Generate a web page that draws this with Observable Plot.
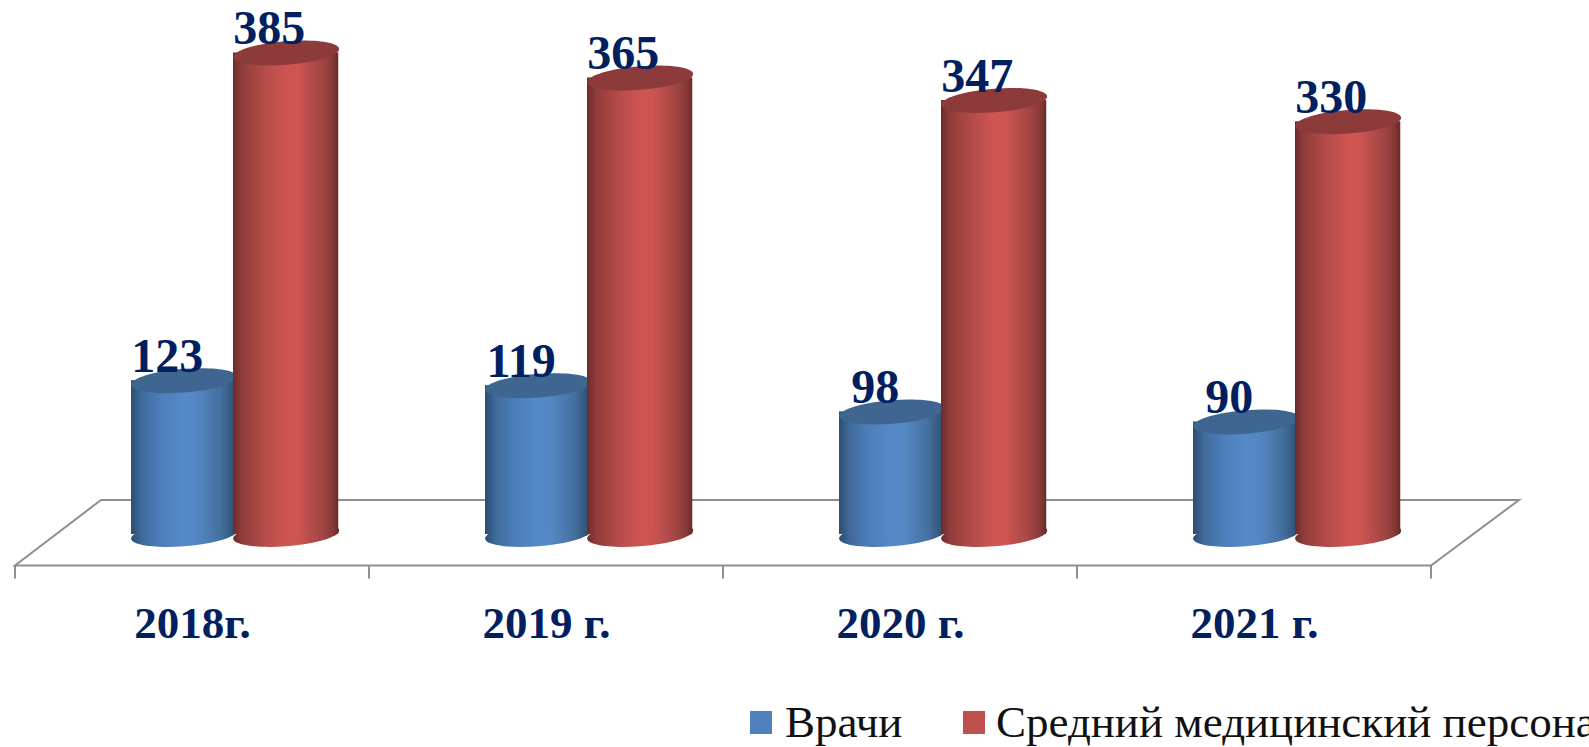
<!DOCTYPE html>
<html><head><meta charset="utf-8">
<script src="https://cdn.jsdelivr.net/npm/d3@7"></script>
<script src="https://cdn.jsdelivr.net/npm/@observablehq/plot@0.6"></script>
<style>
html,body{margin:0;padding:0;background:#fff;overflow:hidden}
#wrap{position:relative;width:1589px;height:747px}
#wrap svg{position:absolute;left:0;top:0;overflow:visible}
.sw{position:absolute;top:711px;width:22px;height:23px}
.lg{position:absolute;top:697px;font:45px/50px "Liberation Serif",serif;color:#111;white-space:nowrap;transform-origin:0 0}
</style></head><body><div id="wrap"></div>
<script>
const years = ["2018г.", "2019 г.", "2020 г.", "2021 г."];
const doctors = [123, 119, 98, 90];
const nurses = [385, 365, 347, 330];
const seriesNames = ["Врачи", "Средний медицинский персонал"];

const W = 1589, H = 690, L = 13, RIGHT = 1432, BASE = 534, TOP385 = 52.5;
const ink = "#002060", grid = "#8f8f8f";
const rx = 53, tilt = 4, ry = 11.8;
const tilted = {draw(p) {
  const c = 0.5523;
  const m = (u, v) => [rx * u, -tilt * u + ry * v];
  p.moveTo(...m(1, 0));
  p.bezierCurveTo(...m(1, c), ...m(c, 1), ...m(0, 1));
  p.bezierCurveTo(...m(-c, 1), ...m(-1, c), ...m(-1, 0));
  p.bezierCurveTo(...m(-1, -c), ...m(-c, -1), ...m(0, -1));
  p.bezierCurveTo(...m(c, -1), ...m(1, -c), ...m(1, 0));
  p.closePath();
}};
const rowsD = years.map((y, i) => ({year: y, value: doctors[i]}));
const rowsN = years.map((y, i) => ({year: y, value: nurses[i]}));

const floor = (index, {x, y}) => {
  const step = x(years[1]) - x(years[0]);
  const front = y(0) + 31.5, back = y(0) - 34, x0 = x(years[0]);
  const xEnd = x0 + step * years.length;
  const p = d3.path();
  p.moveTo(x0 + 86, back); p.lineTo(xEnd + 88, back); p.lineTo(xEnd, front);
  p.lineTo(x0, front); p.closePath();
  for (let i = 0; i <= years.length; i++) { p.moveTo(x0 + i * step, front); p.lineTo(x0 + i * step, front + 13); }
  const el = document.createElementNS("http://www.w3.org/2000/svg", "path");
  el.setAttribute("d", p.toString()); el.setAttribute("fill", "none");
  el.setAttribute("stroke", grid); el.setAttribute("stroke-width", 2);
  return el;
};

function cylinder(rows, grad, topFill, left) {
  const band = (RIGHT - L) / years.length, w = rx * 2;
  const dx = left + rx - band / 2;
  return [
    Plot.dot(rows, {x: "year", y: () => 0, r: 1, symbol: tilted, fill: grad, dx}),
    Plot.barY(rows, {x: "year", y: "value", fill: grad, insetLeft: left, insetRight: band - left - w}),
    Plot.dot(rows, {x: "year", y: "value", r: 1, symbol: tilted, fill: topFill, dx})
  ];
}
function labels(rows, left) {
  const band = (RIGHT - L) / years.length;
  return Plot.text(rows, {x: "year", y: "value", text: "value", dx: left + rx - band / 2 - 17, dy: -9,
    lineAnchor: "bottom", fontSize: 48, fontWeight: "bold", fontFamily: "Liberation Serif", fill: ink});
}

const chart = Plot.plot({
  width: W, height: H, marginLeft: L, marginRight: W - RIGHT, marginTop: TOP385, marginBottom: H - BASE,
  style: {background: "transparent"},
  x: {type: "band", domain: years, padding: 0, align: 0.5},
  y: {domain: [0, 385], axis: null},
  marks: [
    floor,
    ...cylinder(rowsD, "url(#gBlue)", "#3f6690", 116),
    ...cylinder(rowsN, "url(#gRed)", "#8c3b3a", 218),
    labels(rowsD, 116), labels(rowsN, 218),
    Plot.axisX({tickSize: 0, tickPadding: 72, fontSize: 45, fontWeight: "bold", fontFamily: "Liberation Serif", color: ink, label: null, anchor: "bottom"})
  ]
});
const defs = document.createElementNS("http://www.w3.org/2000/svg", "defs");
const stops = (a) => a.map(([o, c]) => `<stop offset="${o}" stop-color="${c}"/>`).join("");
defs.innerHTML =
  `<linearGradient id="gBlue" x1="0" x2="1" y1="0" y2="0">` + stops([[0,"#2c4d6e"],[0.1,"#3f6a9c"],[0.3,"#4d80bb"],[0.5,"#5589c8"],[0.62,"#5487c4"],[0.85,"#44709f"],[1,"#2c4d6e"]]) + `</linearGradient>` +
  `<linearGradient id="gRed" x1="0" x2="1" y1="0" y2="0">` + stops([[0,"#6b2b2a"],[0.08,"#8e3c3a"],[0.3,"#b54c49"],[0.5,"#cd5552"],[0.62,"#cc5451"],[0.85,"#a14543"],[0.95,"#853836"],[1,"#662a29"]]) + `</linearGradient>`;
chart.prepend(defs);
const wrap = document.getElementById("wrap");
wrap.append(chart);

const legend = [["#4f81bd", 750, 785, seriesNames[0]], ["#c0504d", 963, 996, seriesNames[1]]];
legend.forEach(([c, sx, tx, name]) => {
  const s = document.createElement("div"); s.className = "sw"; s.style.left = sx + "px"; s.style.background = c; wrap.append(s);
  const t = document.createElement("div"); t.className = "lg"; t.style.left = tx + "px"; t.textContent = name; wrap.append(t);
});
</script></body></html>
